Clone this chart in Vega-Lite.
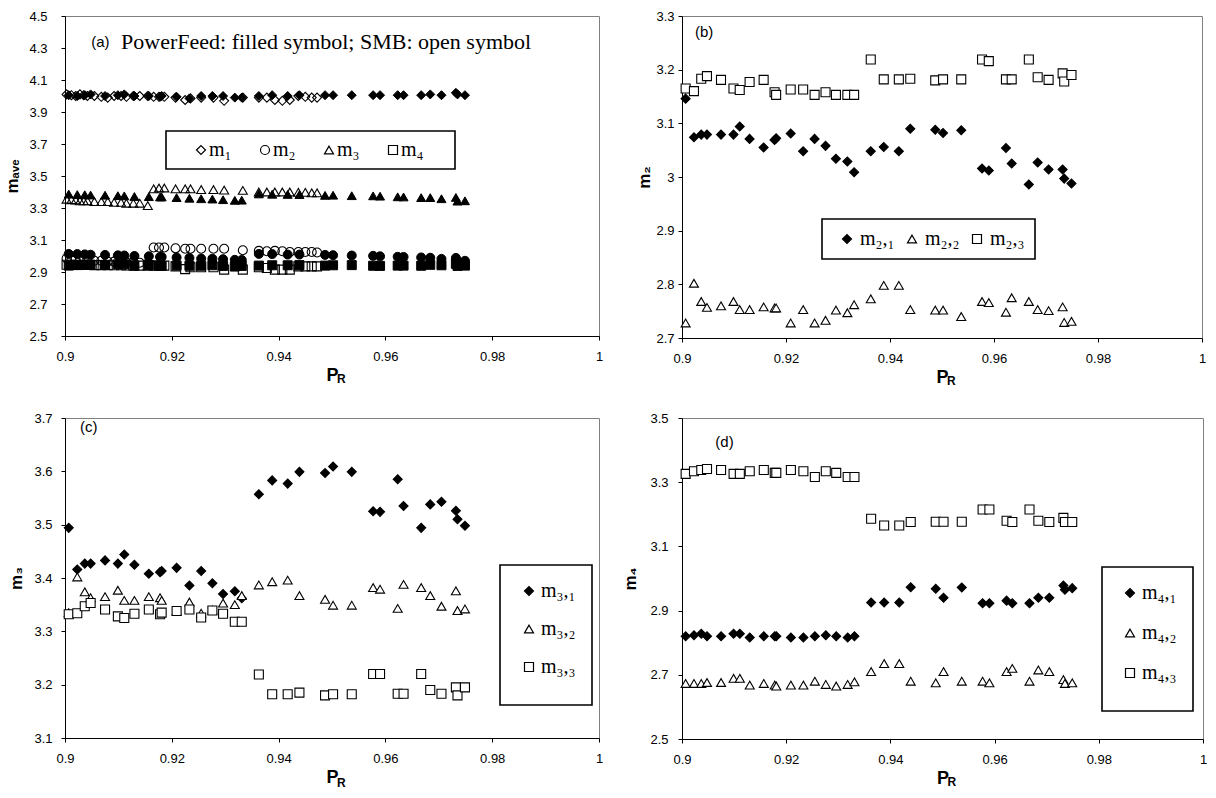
{
"$schema": "https://vega.github.io/schema/vega-lite/v6.json",
"background": "white",
"padding": {"left": 3, "top": 9, "right": 0, "bottom": 0},
"autosize": {"type": "pad"},
"bounds": "flush",
"columns": 2,
"spacing": {"row": 80, "column": 83},
"resolve": {"scale": {"shape": "independent", "fill": "independent", "x": "independent", "y": "independent"}, "legend": {"shape": "independent", "fill": "independent"}},
"config": {
  "view": {"stroke": "#808080", "strokeWidth": 1},
  "font": "Liberation Sans",
  "axis": {"grid": false, "domainColor": "black", "domainWidth": 1, "tickColor": "black", "tickSize": 4, "labelColor": "black", "titleColor": "black", "labelFont": "Liberation Sans", "labelFontSize": 13, "titleFont": "Liberation Sans", "titleFontSize": 17, "titleFontWeight": "bold", "labelFlush": false, "labelOverlap": false, "tickCount": 20},
  "axisX": {"labelPadding": 10, "titlePadding": 3, "titleFontSize": 18},
  "legend": {"labelFont": "Liberation Serif", "labelFontSize": 20, "labelColor": "black", "strokeColor": "black", "strokeWidth": 1.6, "fillColor": "white", "symbolSize": 81, "symbolStrokeWidth": 1.2, "labelLimit": 0, "titleFont": "Liberation Sans", "titleFontSize": 10}
},
"datasets": {
  "pf": [
    {"pr":0.9007,"a1":4.005,"a2":3.013,"a3":3.387,"a4":2.940,"b1":3.146,"b2":2.728,"b3":3.165,"c1":3.494,"c2":3.335,"c3":3.332,"d1":2.820,"d2":2.673,"d3":3.326},
    {"pr":0.9023,"a1":4.000,"a2":3.012,"a3":3.384,"a4":2.943,"b1":3.074,"b2":2.802,"b3":3.160,"c1":3.416,"c2":3.402,"c3":3.334,"d1":2.823,"d2":2.673,"d3":3.334},
    {"pr":0.9037,"a1":4.005,"a2":3.010,"a3":3.383,"a4":2.946,"b1":3.079,"b2":2.768,"b3":3.183,"c1":3.427,"c2":3.374,"c3":3.347,"d1":2.828,"d2":2.673,"d3":3.338},
    {"pr":0.9048,"a1":4.010,"a2":3.008,"a3":3.381,"a4":2.946,"b1":3.079,"b2":2.757,"b3":3.188,"c1":3.427,"c2":3.363,"c3":3.353,"d1":2.820,"d2":2.676,"d3":3.341},
    {"pr":0.9075,"a1":4.000,"a2":3.007,"a3":3.380,"a4":2.945,"b1":3.079,"b2":2.760,"b3":3.181,"c1":3.433,"c2":3.365,"c3":3.341,"d1":2.820,"d2":2.676,"d3":3.338},
    {"pr":0.9099,"a1":4.005,"a2":3.004,"a3":3.377,"a4":2.948,"b1":3.079,"b2":2.768,"b3":3.165,"c1":3.427,"c2":3.377,"c3":3.328,"d1":2.828,"d2":2.689,"d3":3.326},
    {"pr":0.9111,"a1":4.010,"a2":3.003,"a3":3.376,"a4":2.948,"b1":3.094,"b2":2.753,"b3":3.162,"c1":3.444,"c2":3.358,"c3":3.325,"d1":2.828,"d2":2.689,"d3":3.326},
    {"pr":0.9130,"a1":4.000,"a2":3.000,"a3":3.372,"a4":2.939,"b1":3.071,"b2":2.753,"b3":3.177,"c1":3.425,"c2":3.358,"c3":3.333,"d1":2.816,"d2":2.668,"d3":3.334},
    {"pr":0.9157,"a1":4.000,"a2":2.998,"a3":3.371,"a4":2.944,"b1":3.055,"b2":2.758,"b3":3.181,"c1":3.408,"c2":3.365,"c3":3.341,"d1":2.820,"d2":2.673,"d3":3.338},
    {"pr":0.9178,"a1":3.995,"a2":2.994,"a3":3.369,"a4":2.939,"b1":3.069,"b2":2.756,"b3":3.158,"c1":3.411,"c2":3.363,"c3":3.332,"d1":2.820,"d2":2.668,"d3":3.329},
    {"pr":0.9181,"a1":4.000,"a2":2.994,"a3":3.369,"a4":2.938,"b1":3.072,"b2":2.756,"b3":3.153,"c1":3.413,"c2":3.358,"c3":3.335,"d1":2.820,"d2":2.665,"d3":3.329},
    {"pr":0.9209,"a1":3.995,"a2":2.991,"a3":3.365,"a4":2.941,"b1":3.081,"b2":2.728,"b3":3.163,"c1":3.419,"c2":3.338,"c3":3.338,"d1":2.816,"d2":2.668,"d3":3.338},
    {"pr":0.9233,"a1":3.985,"a2":2.988,"a3":3.361,"a4":2.939,"b1":3.048,"b2":2.753,"b3":3.163,"c1":3.386,"c2":3.355,"c3":3.341,"d1":2.816,"d2":2.668,"d3":3.334},
    {"pr":0.9255,"a1":4.000,"a2":2.984,"a3":3.358,"a4":2.939,"b1":3.071,"b2":2.728,"b3":3.153,"c1":3.413,"c2":3.334,"c3":3.326,"d1":2.820,"d2":2.680,"d3":3.316},
    {"pr":0.9276,"a1":4.000,"a2":2.983,"a3":3.356,"a4":2.942,"b1":3.058,"b2":2.733,"b3":3.158,"c1":3.390,"c2":3.340,"c3":3.339,"d1":2.823,"d2":2.670,"d3":3.334},
    {"pr":0.9296,"a1":4.000,"a2":2.980,"a3":3.352,"a4":2.938,"b1":3.034,"b2":2.752,"b3":3.153,"c1":3.370,"c2":3.353,"c3":3.333,"d1":2.820,"d2":2.665,"d3":3.329},
    {"pr":0.9318,"a1":3.990,"a2":2.976,"a3":3.348,"a4":2.934,"b1":3.029,"b2":2.747,"b3":3.153,"c1":3.375,"c2":3.350,"c3":3.318,"d1":2.816,"d2":2.670,"d3":3.316},
    {"pr":0.9331,"a1":3.990,"a2":2.975,"a3":3.349,"a4":2.938,"b1":3.009,"b2":2.762,"b3":3.153,"c1":3.362,"c2":3.367,"c3":3.318,"d1":2.820,"d2":2.678,"d3":3.316},
    {"pr":0.9363,"a1":4.000,"a2":3.013,"a3":3.388,"a4":2.940,"b1":3.048,"b2":2.773,"b3":3.219,"c1":3.557,"c2":3.387,"c3":3.219,"d1":2.925,"d2":2.710,"d3":3.186},
    {"pr":0.9388,"a1":4.005,"a2":3.012,"a3":3.386,"a4":2.942,"b1":3.056,"b2":2.798,"b3":3.182,"c1":3.583,"c2":3.393,"c3":3.182,"d1":2.925,"d2":2.735,"d3":3.165},
    {"pr":0.9417,"a1":4.000,"a2":3.009,"a3":3.385,"a4":2.942,"b1":3.048,"b2":2.798,"b3":3.182,"c1":3.577,"c2":3.396,"c3":3.182,"d1":2.925,"d2":2.735,"d3":3.165},
    {"pr":0.9439,"a1":4.005,"a2":3.009,"a3":3.384,"a4":2.943,"b1":3.090,"b2":2.753,"b3":3.183,"c1":3.599,"c2":3.367,"c3":3.185,"d1":2.973,"d2":2.680,"d3":3.176},
    {"pr":0.9487,"a1":4.005,"a2":3.007,"a3":3.379,"a4":2.940,"b1":3.088,"b2":2.752,"b3":3.180,"c1":3.597,"c2":3.360,"c3":3.180,"d1":2.968,"d2":2.675,"d3":3.177},
    {"pr":0.9502,"a1":4.005,"a2":3.005,"a3":3.380,"a4":2.942,"b1":3.082,"b2":2.752,"b3":3.182,"c1":3.609,"c2":3.349,"c3":3.182,"d1":2.940,"d2":2.710,"d3":3.177},
    {"pr":0.9537,"a1":4.005,"a2":3.003,"a3":3.377,"a4":2.943,"b1":3.087,"b2":2.740,"b3":3.182,"c1":3.599,"c2":3.349,"c3":3.182,"d1":2.972,"d2":2.680,"d3":3.177},
    {"pr":0.9577,"a1":4.005,"a2":3.001,"a3":3.376,"a4":2.939,"b1":3.016,"b2":2.768,"b3":3.219,"c1":3.525,"c2":3.382,"c3":3.220,"d1":2.923,"d2":2.680,"d3":3.215},
    {"pr":0.9590,"a1":4.005,"a2":2.998,"a3":3.374,"a4":2.938,"b1":3.012,"b2":2.766,"b3":3.216,"c1":3.524,"c2":3.379,"c3":3.220,"d1":2.923,"d2":2.675,"d3":3.215},
    {"pr":0.9623,"a1":4.005,"a2":2.995,"a3":3.370,"a4":2.940,"b1":3.054,"b2":2.748,"b3":3.182,"c1":3.585,"c2":3.343,"c3":3.183,"d1":2.931,"d2":2.710,"d3":3.180},
    {"pr":0.9634,"a1":4.005,"a2":2.994,"a3":3.369,"a4":2.940,"b1":3.025,"b2":2.775,"b3":3.182,"c1":3.535,"c2":3.388,"c3":3.183,"d1":2.923,"d2":2.720,"d3":3.176},
    {"pr":0.9667,"a1":4.005,"a2":2.991,"a3":3.365,"a4":2.939,"b1":2.986,"b2":2.768,"b3":3.219,"c1":3.494,"c2":3.382,"c3":3.220,"d1":2.923,"d2":2.680,"d3":3.215},
    {"pr":0.9684,"a1":4.010,"a2":2.989,"a3":3.365,"a4":2.945,"b1":3.027,"b2":2.753,"b3":3.186,"c1":3.538,"c2":3.367,"c3":3.190,"d1":2.940,"d2":2.715,"d3":3.180},
    {"pr":0.9705,"a1":4.005,"a2":2.982,"a3":3.358,"a4":2.942,"b1":3.014,"b2":2.751,"b3":3.181,"c1":3.543,"c2":3.347,"c3":3.183,"d1":2.940,"d2":2.710,"d3":3.176},
    {"pr":0.9732,"a1":4.020,"a2":2.988,"a3":3.366,"a4":2.951,"b1":3.014,"b2":2.758,"b3":3.193,"c1":3.526,"c2":3.376,"c3":3.195,"d1":2.978,"d2":2.685,"d3":3.189},
    {"pr":0.9735,"a1":4.010,"a2":2.968,"a3":3.343,"a4":2.938,"b1":2.997,"b2":2.729,"b3":3.178,"c1":3.510,"c2":3.339,"c3":3.180,"d1":2.965,"d2":2.673,"d3":3.176},
    {"pr":0.9749,"a1":4.005,"a2":2.970,"a3":3.345,"a4":2.940,"b1":2.988,"b2":2.731,"b3":3.190,"c1":3.498,"c2":3.342,"c3":3.195,"d1":2.970,"d2":2.675,"d3":3.176}
  ],
  "smb": [
    {"pr":0.9003,"a1":4.010,"a2":2.985,"a3":3.355,"a4":2.945},
    {"pr":0.9012,"a1":4.005,"a2":2.975,"a3":3.352,"a4":2.945},
    {"pr":0.9020,"a1":4.000,"a2":2.980,"a3":3.350,"a4":2.945},
    {"pr":0.9028,"a1":4.010,"a2":2.975,"a3":3.345,"a4":2.944},
    {"pr":0.9035,"a1":4.005,"a2":2.980,"a3":3.345,"a4":2.944},
    {"pr":0.9042,"a1":4.000,"a2":2.975,"a3":3.345,"a4":2.944},
    {"pr":0.9055,"a1":4.000,"a2":2.970,"a3":3.340,"a4":2.943},
    {"pr":0.9068,"a1":3.995,"a2":2.970,"a3":3.340,"a4":2.943},
    {"pr":0.9080,"a1":3.990,"a2":2.965,"a3":3.340,"a4":2.942},
    {"pr":0.9092,"a1":4.000,"a2":2.965,"a3":3.335,"a4":2.942},
    {"pr":0.9105,"a1":4.000,"a2":2.965,"a3":3.335,"a4":2.942},
    {"pr":0.9115,"a1":3.995,"a2":2.960,"a3":3.330,"a4":2.941},
    {"pr":0.9128,"a1":4.000,"a2":2.962,"a3":3.330,"a4":2.941},
    {"pr":0.9140,"a1":4.000,"a2":2.958,"a3":3.330,"a4":2.940},
    {"pr":0.9155,"a1":4.000,"a2":2.955,"a3":3.315,"a4":2.940},
    {"pr":0.9166,"a1":3.995,"a2":3.053,"a3":3.420,"a4":2.940},
    {"pr":0.9176,"a1":3.995,"a2":3.053,"a3":3.425,"a4":2.940},
    {"pr":0.9186,"a1":3.995,"a2":3.053,"a3":3.425,"a4":2.940},
    {"pr":0.9207,"a1":3.990,"a2":3.048,"a3":3.420,"a4":2.935},
    {"pr":0.9225,"a1":3.975,"a2":3.045,"a3":3.420,"a4":2.918},
    {"pr":0.9235,"a1":3.985,"a2":3.045,"a3":3.420,"a4":2.930},
    {"pr":0.9255,"a1":3.990,"a2":3.045,"a3":3.415,"a4":2.930},
    {"pr":0.9278,"a1":3.990,"a2":3.045,"a3":3.415,"a4":2.930},
    {"pr":0.9298,"a1":3.970,"a2":3.045,"a3":3.412,"a4":2.915},
    {"pr":0.9333,"a1":3.990,"a2":3.036,"a3":3.410,"a4":2.915},
    {"pr":0.9363,"a1":3.990,"a2":3.032,"a3":3.400,"a4":2.930},
    {"pr":0.9378,"a1":3.990,"a2":3.030,"a3":3.400,"a4":2.925},
    {"pr":0.9393,"a1":3.975,"a2":3.032,"a3":3.400,"a4":2.915},
    {"pr":0.9407,"a1":3.970,"a2":3.030,"a3":3.400,"a4":2.915},
    {"pr":0.9421,"a1":3.975,"a2":3.025,"a3":3.400,"a4":2.915},
    {"pr":0.9437,"a1":4.000,"a2":3.025,"a3":3.398,"a4":2.935},
    {"pr":0.9450,"a1":3.995,"a2":3.025,"a3":3.398,"a4":2.935},
    {"pr":0.9462,"a1":3.990,"a2":3.025,"a3":3.395,"a4":2.935},
    {"pr":0.9472,"a1":3.990,"a2":3.022,"a3":3.395,"a4":2.935}
  ]
},
"concat": [
    {"width": 534, "height": 320,
     "layer": [
      {"data": {"name": "smb"},
       "transform": [{"fold": ["a1","a2","a3","a4"], "as": ["k","v"]}],
       "mark": {"type": "point", "filled": false, "stroke": "black", "strokeWidth": 1.1, "opacity": 1, "size": 81},
       "encoding": {
         "x": {"field": "pr", "type": "quantitative", "scale": {"domain": [0.9, 1], "nice": false, "zero": false}, "axis": {"values": [0.9,0.92,0.94,0.96,0.98,1], "format": "~g", "title": "P", "labelOverlap": false, "tickCount": 20}},
         "y": {"field": "v", "type": "quantitative", "scale": {"domain": [2.5, 4.5], "nice": false, "zero": false}, "axis": {"values": [2.5,2.7,2.9,3.1,3.3,3.5,3.7,3.9,4.1,4.3,4.5], "format": ".1f", "title": "mₐᵥₑ", "labelPadding": 14, "titlePadding": 7, "labelOverlap": false, "tickCount": 20}},
         "shape": {"field": "k", "type": "nominal", "scale": {"domain": ["a1","a2","a3","a4"], "range": ["diamond","circle","triangle-up","square"]},
           "legend": {"title": " ", "titleOrient": "right", "titlePadding": 22, "orient": "none", "legendX": 101, "legendY": 115, "direction": "horizontal", "columns": 4, "padding": 9, "columnPadding": 7, "symbolOffset": 16, "labelOffset": -2,
             "labelExpr": "{'a1':'m₁','a2':'m₂','a3':'m₃','a4':'m₄'}[datum.label]",
             "encode": {"symbols": {"fill": {"value": "white"}, "stroke": {"value": "black"}, "strokeWidth": {"value": 1.1}}}}}
       }},
      {"data": {"name": "pf"},
       "transform": [{"fold": ["a1","a2","a3","a4"], "as": ["k","v"]}],
       "mark": {"type": "point", "filled": true, "fill": "black", "stroke": "black", "strokeWidth": 1, "opacity": 1, "size": 81},
       "encoding": {
         "x": {"field": "pr", "type": "quantitative", "axis": {"values": [0.9,0.92,0.94,0.96,0.98,1], "format": "~g", "title": "P", "labelOverlap": false, "tickCount": 20}},
         "y": {"field": "v", "type": "quantitative", "axis": {"values": [2.5,2.7,2.9,3.1,3.3,3.5,3.7,3.9,4.1,4.3,4.5], "format": ".1f", "title": "mₐᵥₑ", "labelPadding": 14, "titlePadding": 7, "labelOverlap": false, "tickCount": 20}},
         "shape": {"field": "k", "type": "nominal"}
       }},
      {"data": {"values": [{}]},
       "mark": {"type": "text", "text": "(a)", "font": "Liberation Sans", "fontSize": 15, "align": "left", "baseline": "middle", "color": "black"},
       "encoding": {"x": {"datum": 0.9049}, "y": {"datum": 4.337}}},
      {"data": {"values": [{}]},
       "mark": {"type": "text", "text": "PowerFeed: filled symbol; SMB: open symbol", "font": "Liberation Serif", "fontSize": 22, "align": "left", "baseline": "middle", "color": "black"},
       "encoding": {"x": {"datum": 0.9105}, "y": {"datum": 4.337}}},
      {"data": {"values": [{}]},
       "mark": {"type": "text", "text": "R", "font": "Liberation Sans", "fontWeight": "bold", "fontSize": 12, "align": "left", "baseline": "middle", "dx": 5, "dy": 43, "color": "black"},
       "encoding": {"x": {"datum": 0.95}, "y": {"datum": 2.5}}}
     ]},
    {"width": 520, "height": 322,
     "layer": [
      {"data": {"name": "pf"},
       "transform": [{"fold": ["b1","b2","b3"], "as": ["k","v"]}],
       "mark": {"type": "point", "filled": true, "stroke": "black", "strokeWidth": 1.1, "opacity": 1, "size": 81},
       "encoding": {
         "x": {"field": "pr", "type": "quantitative", "scale": {"domain": [0.9, 1], "nice": false, "zero": false}, "axis": {"values": [0.9,0.92,0.94,0.96,0.98,1], "format": "~g", "title": "P", "labelOverlap": false}},
         "y": {"field": "v", "type": "quantitative", "scale": {"domain": [2.7, 3.3], "nice": false, "zero": false}, "axis": {"values": [2.7,2.8,2.9,3,3.1,3.2,3.3], "format": "~g", "title": "m₂", "labelPadding": 4, "titlePadding": 2, "labelOverlap": false}},
         "shape": {"field": "k", "type": "nominal", "scale": {"domain": ["b1","b2","b3"], "range": ["diamond","triangle-up","square"]},
           "legend": {"title": null, "orient": "none", "legendX": 140, "legendY": 203, "direction": "horizontal", "columns": 3, "padding": 10, "columnPadding": 2, "symbolOffset": 5, "labelOffset": 3,
             "labelExpr": "{'b1':'m₂,₁','b2':'m₂,₂','b3':'m₂,₃'}[datum.label]",
             "encode": {"symbols": {"stroke": {"value": "black"}, "strokeWidth": {"value": 1.1}}}}},
         "fill": {"field": "k", "type": "nominal", "scale": {"domain": ["b1","b2","b3"], "range": ["black","white","white"]},
           "legend": {"title": null, "orient": "none", "legendX": 140, "legendY": 203, "direction": "horizontal", "columns": 3, "padding": 10, "columnPadding": 2, "symbolOffset": 5, "labelOffset": 3,
             "labelExpr": "{'b1':'m₂,₁','b2':'m₂,₂','b3':'m₂,₃'}[datum.label]",
             "encode": {"symbols": {"stroke": {"value": "black"}, "strokeWidth": {"value": 1.1}}}}}
       }},
      {"data": {"values": [{}]},
       "mark": {"type": "text", "text": "(b)", "font": "Liberation Sans", "fontSize": 15, "align": "left", "baseline": "middle", "color": "black"},
       "encoding": {"x": {"datum": 0.9025}, "y": {"datum": 3.27}}},
      {"data": {"values": [{}]},
       "mark": {"type": "text", "text": "R", "font": "Liberation Sans", "fontWeight": "bold", "fontSize": 12, "align": "left", "baseline": "middle", "dx": 5, "dy": 43, "color": "black"},
       "encoding": {"x": {"datum": 0.95}, "y": {"datum": 2.7}}}
     ]},
    {"width": 534, "height": 320,
     "layer": [
      {"data": {"name": "pf"},
       "transform": [{"fold": ["c1","c2","c3"], "as": ["k","v"]}],
       "mark": {"type": "point", "filled": true, "stroke": "black", "strokeWidth": 1.1, "opacity": 1, "size": 81},
       "encoding": {
         "x": {"field": "pr", "type": "quantitative", "scale": {"domain": [0.9, 1], "nice": false, "zero": false}, "axis": {"values": [0.9,0.92,0.94,0.96,0.98,1], "format": "~g", "title": "P", "labelOverlap": false}},
         "y": {"field": "v", "type": "quantitative", "scale": {"domain": [3.1, 3.7], "nice": false, "zero": false}, "axis": {"values": [3.1,3.2,3.3,3.4,3.5,3.6,3.7], "format": "~g", "title": "m₃", "labelPadding": 9, "titlePadding": 8, "labelOverlap": false}},
         "shape": {"field": "k", "type": "nominal", "scale": {"domain": ["c1","c2","c3"], "range": ["diamond","triangle-up","square"]},
           "legend": {"title": " ", "titleOrient": "bottom", "titlePadding": 2, "orient": "none", "legendX": 435, "legendY": 147, "direction": "vertical", "padding": 16, "rowPadding": 18, "symbolOffset": 3, "labelOffset": 2,
             "labelExpr": "{'c1':'m₃,₁','c2':'m₃,₂','c3':'m₃,₃'}[datum.label]",
             "encode": {"symbols": {"stroke": {"value": "black"}, "strokeWidth": {"value": 1.1}}}}},
         "fill": {"field": "k", "type": "nominal", "scale": {"domain": ["c1","c2","c3"], "range": ["black","white","white"]},
           "legend": {"title": " ", "titleOrient": "bottom", "titlePadding": 2, "orient": "none", "legendX": 435, "legendY": 147, "direction": "vertical", "padding": 16, "rowPadding": 18, "symbolOffset": 3, "labelOffset": 2,
             "labelExpr": "{'c1':'m₃,₁','c2':'m₃,₂','c3':'m₃,₃'}[datum.label]",
             "encode": {"symbols": {"stroke": {"value": "black"}, "strokeWidth": {"value": 1.1}}}}}
       }},
      {"data": {"values": [{}]},
       "mark": {"type": "text", "text": "(c)", "font": "Liberation Sans", "fontSize": 15, "align": "left", "baseline": "middle", "color": "black"},
       "encoding": {"x": {"datum": 0.9028}, "y": {"datum": 3.683}}},
      {"data": {"values": [{}]},
       "mark": {"type": "text", "text": "R", "font": "Liberation Sans", "fontWeight": "bold", "fontSize": 12, "align": "left", "baseline": "middle", "dx": 5, "dy": 45, "color": "black"},
       "encoding": {"x": {"datum": 0.95}, "y": {"datum": 3.1}}}
     ]},
    {"width": 521, "height": 321,
     "layer": [
      {"data": {"name": "pf"},
       "transform": [{"fold": ["d1","d2","d3"], "as": ["k","v"]}],
       "mark": {"type": "point", "filled": true, "stroke": "black", "strokeWidth": 1.1, "opacity": 1, "size": 81},
       "encoding": {
         "x": {"field": "pr", "type": "quantitative", "scale": {"domain": [0.9, 1], "nice": false, "zero": false}, "axis": {"values": [0.9,0.92,0.94,0.96,0.98,1], "format": "~g", "title": "P", "labelOverlap": false}},
         "y": {"field": "v", "type": "quantitative", "scale": {"domain": [2.5, 3.5], "nice": false, "zero": false}, "axis": {"values": [2.5,2.7,2.9,3.1,3.3,3.5], "format": ".1f", "title": "m₄", "labelPadding": 10, "titlePadding": 10, "labelOverlap": false}},
         "shape": {"field": "k", "type": "nominal", "scale": {"domain": ["d1","d2","d3"], "range": ["diamond","triangle-up","square"]},
           "legend": {"title": " ", "titleOrient": "bottom", "titlePadding": 2, "orient": "none", "legendX": 420, "legendY": 149, "direction": "vertical", "padding": 16, "rowPadding": 20, "symbolOffset": 2, "labelOffset": 2,
             "labelExpr": "{'d1':'m₄,₁','d2':'m₄,₂','d3':'m₄,₃'}[datum.label]",
             "encode": {"symbols": {"stroke": {"value": "black"}, "strokeWidth": {"value": 1.1}}}}},
         "fill": {"field": "k", "type": "nominal", "scale": {"domain": ["d1","d2","d3"], "range": ["black","white","white"]},
           "legend": {"title": " ", "titleOrient": "bottom", "titlePadding": 2, "orient": "none", "legendX": 420, "legendY": 149, "direction": "vertical", "padding": 16, "rowPadding": 20, "symbolOffset": 2, "labelOffset": 2,
             "labelExpr": "{'d1':'m₄,₁','d2':'m₄,₂','d3':'m₄,₃'}[datum.label]",
             "encode": {"symbols": {"stroke": {"value": "black"}, "strokeWidth": {"value": 1.1}}}}}
       }},
      {"data": {"values": [{}]},
       "mark": {"type": "text", "text": "(d)", "font": "Liberation Sans", "fontSize": 15, "align": "left", "baseline": "middle", "color": "black"},
       "encoding": {"x": {"datum": 0.9064}, "y": {"datum": 3.4255}}},
      {"data": {"values": [{}]},
       "mark": {"type": "text", "text": "R", "font": "Liberation Sans", "fontWeight": "bold", "fontSize": 12, "align": "left", "baseline": "middle", "dx": 5, "dy": 43, "color": "black"},
       "encoding": {"x": {"datum": 0.95}, "y": {"datum": 2.5}}}
     ]}
]
}
